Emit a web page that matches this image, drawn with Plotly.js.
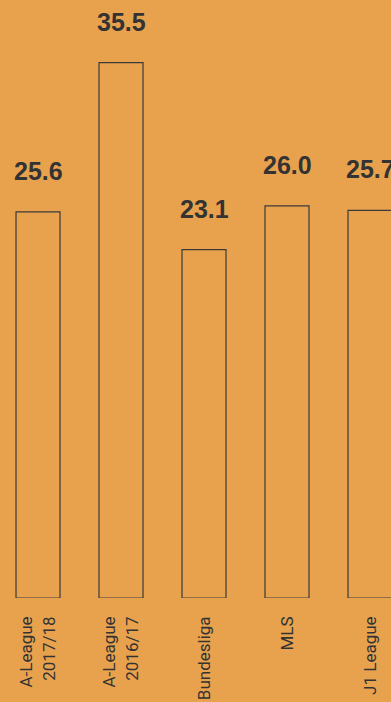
<!DOCTYPE html>
<html><head><meta charset="utf-8">
<script src="https://cdn.plot.ly/plotly-3.0.1.min.js"></script>
<style>html,body{margin:0;padding:0;background:#E8A24E;}#chart{width:391px;height:702px;}</style>
</head><body><div id="chart"></div>
<script>
const categories = ["A-League<br>2017/18", "A-League<br>2016/17", "Bundesliga", "MLS", "J1 League"];
const values = [25.6, 35.5, 23.1, 26.0, 25.7];
const valueLabels = ["25.6", "35.5", "23.1", "26.0", "25.7"];

const bg = "#E8A24E";
const ink = "#333333";

const trace = {
  type: "bar",
  x: categories,
  y: values,
  width: 0.53,
  marker: {color: "rgba(0,0,0,0)", line: {color: "#3a3a3a", width: 1.2}},
  hoverinfo: "none"
};

const annotations = categories.map((c, i) => ({
  x: c, y: values[i], xref: "x", yref: "y",
  text: "<b>" + valueLabels[i] + "</b>",
  showarrow: false, yanchor: "bottom", yshift: 25,
  font: {family: "Liberation Sans Narrow, Arial Narrow, Liberation Sans, sans-serif", size: 25, color: ink}
}));

const layout = {
  width: 391, height: 702,
  margin: {l: 0, r: 0, t: 0, b: 104},
  paper_bgcolor: bg, plot_bgcolor: bg,
  showlegend: false,
  xaxis: {
    type: "category",
    range: [-0.458, 4.253],
    tickangle: -90,
    showgrid: false, zeroline: false, showline: false, ticks: "",
    ticklabelstandoff: 14,
    automargin: false,
    tickfont: {family: "Roboto, sans-serif", size: 17, color: ink}
  },
  yaxis: {
    range: [0, 39.65],
    visible: false, showgrid: false, zeroline: false, fixedrange: true
  },
  annotations: annotations
};

Plotly.newPlot("chart", [trace], layout, {displayModeBar: false, staticPlot: true});
</script></body></html>
